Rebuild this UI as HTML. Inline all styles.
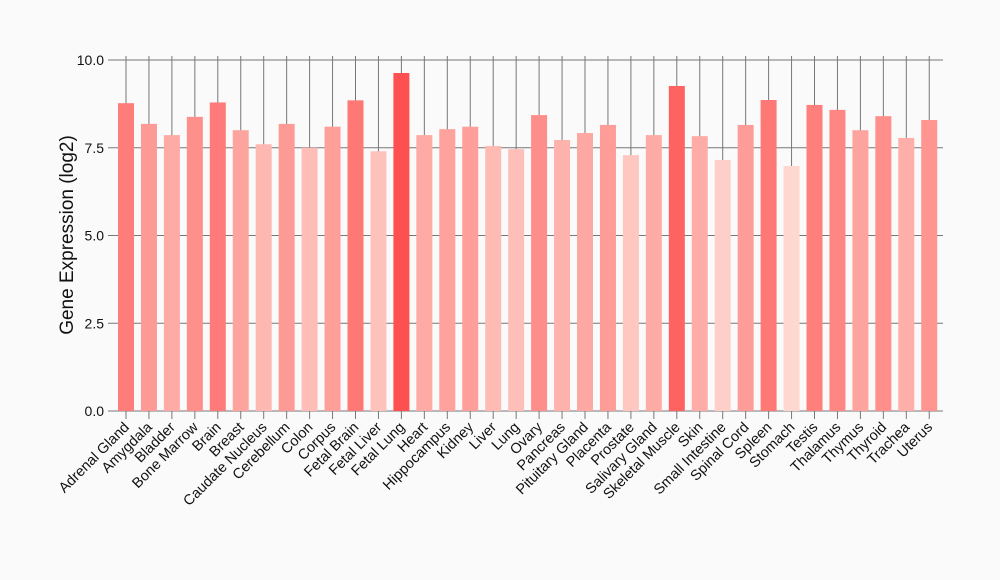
<!DOCTYPE html>
<html><head><style>body{margin:0;background:#fafafa}svg{display:block}</style></head><body>
<svg id="s" width="1000" height="580" xmlns="http://www.w3.org/2000/svg" font-family="Liberation Sans, sans-serif">
<rect width="1000" height="580" fill="#fafafa"/>
<g id="g"></g>
<text transform="translate(73,235) rotate(-90)" text-anchor="middle" font-size="19" fill="#111">Gene Expression (log2)</text>
</svg>
<script>
const d=[["Adrenal Gland",8.77],["Amygdala",8.18],["Bladder",7.86],["Bone Marrow",8.38],["Brain",8.79],["Breast",8.0],["Caudate Nucleus",7.6],["Cerebellum",8.18],["Colon",7.5],["Corpus",8.1],["Fetal Brain",8.85],["Fetal Liver",7.4],["Fetal Lung",9.63],["Heart",7.86],["Hippocampus",8.03],["Kidney",8.1],["Liver",7.55],["Lung",7.46],["Ovary",8.43],["Pancreas",7.72],["Pituitary Gland",7.92],["Placenta",8.15],["Prostate",7.29],["Salivary Gland",7.86],["Skeletal Muscle",9.26],["Skin",7.83],["Small Intestine",7.15],["Spinal Cord",8.15],["Spleen",8.86],["Stomach",6.98],["Testis",8.72],["Thalamus",8.58],["Thymus",8.0],["Thyroid",8.4],["Trachea",7.78],["Uterus",8.29]];
let h="";const Y=v=>411-v*35.1;
for(let i=0;i<=4;i++){const y=Y(i*2.5);h+=`<line x1="108" x2="943" y1="${y}" y2="${y}" stroke="#777" stroke-width="1"/><text x="104" y="${y+5}" text-anchor="end" font-size="14" fill="#111">${(i*2.5).toFixed(1)}</text>`;}
d.forEach(([n,v],i)=>{const c=126+i*22.95;const t=(v-6.98)/(9.63-6.98);
const g=Math.round(216-t*(216-80)),b=Math.round(208-t*(208-80));
h+=`<line x1="${c}" x2="${c}" y1="56" y2="419" stroke="#777" stroke-width="1"/>`;
h+=`<rect x="${c-8}" y="${Y(v)}" width="16" height="${v*35.1}" fill="rgb(254,${g},${b})"/>`;
h+=`<text transform="translate(${c+4},428) rotate(-45)" text-anchor="end" font-size="14.5" fill="#111">${n}</text>`;});
document.getElementById("g").innerHTML=h;
</script>
</body></html>
